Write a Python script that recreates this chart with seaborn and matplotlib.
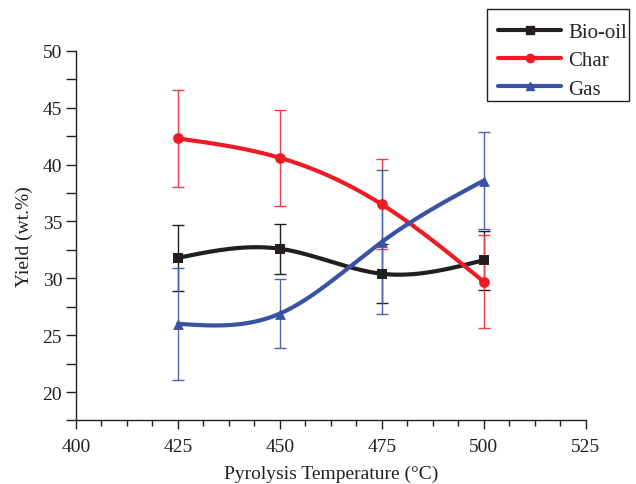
import numpy as np
import pandas as pd
import matplotlib
matplotlib.use("Agg")
import matplotlib.pyplot as plt
import seaborn as sns
from matplotlib.lines import Line2D
from matplotlib.patches import Rectangle
from matplotlib.ticker import MultipleLocator

temps = [425, 450, 475, 500]
bio_oil = [31.8, 32.6, 30.4, 31.6]
bio_oil_err = [2.9, 2.2, 2.6, 2.6]
char = [42.3, 40.6, 36.5, 29.7]
char_err = [4.25, 4.2, 3.95, 4.1]
gas = [26.0, 26.9, 33.2, 38.6]
gas_err = [4.9, 3.05, 6.3, 4.25]

series_names = ["Bio-oil", "Char", "Gas"]


def natural_spline(x, y, n=200):
    x = np.asarray(x, float)
    y = np.asarray(y, float)
    k = len(x)
    h = np.diff(x)
    A = np.zeros((k, k))
    b = np.zeros(k)
    A[0, 0] = 1
    A[-1, -1] = 1
    for i in range(1, k - 1):
        A[i, i - 1] = h[i - 1]
        A[i, i] = 2 * (h[i - 1] + h[i])
        A[i, i + 1] = h[i]
        b[i] = 3 * ((y[i + 1] - y[i]) / h[i] - (y[i] - y[i - 1]) / h[i - 1])
    c = np.linalg.solve(A, b)
    xs = np.linspace(x[0], x[-1], n)
    ys = np.empty_like(xs)
    for j, xv in enumerate(xs):
        i = min(np.searchsorted(x, xv, side="right") - 1, k - 2)
        dx = xv - x[i]
        bi = (y[i + 1] - y[i]) / h[i] - h[i] * (2 * c[i] + c[i + 1]) / 3
        di = (c[i + 1] - c[i]) / (3 * h[i])
        ys[j] = y[i] + bi * dx + c[i] * dx ** 2 + di * dx ** 3
    return xs, ys


sns.set_style("ticks")
plt.rcParams["font.family"] = ["Liberation Serif", "DejaVu Serif"]

W, H = 636, 485
fig = plt.figure(figsize=(W / 100, H / 100), dpi=100)
ax = fig.add_axes([0.1195, 0.131, 0.8015, 0.762])

colors = {"Bio-oil": "#231f20", "Char": "#ed1c24", "Gas": "#3953a4"}
err_colors = {"Bio-oil": "#231f20", "Char": "#ef3e45", "Gas": "#4a64b0"}
markers = {"Bio-oil": "s", "Char": "o", "Gas": "^"}
vals = {"Bio-oil": bio_oil, "Char": char, "Gas": gas}
errs = {"Bio-oil": bio_oil_err, "Char": char_err, "Gas": gas_err}

for z, name in enumerate(series_names):
    ax.errorbar(temps, vals[name], yerr=errs[name], fmt="none",
                ecolor=err_colors[name], elinewidth=1.0, capsize=4.5,
                capthick=1.0, zorder=2 + z)

for z, name in enumerate(series_names):
    xs, ys = natural_spline(temps, vals[name])
    df = pd.DataFrame({"x": xs, "y": ys})
    sns.lineplot(data=df, x="x", y="y", ax=ax, color=colors[name],
                 linewidth=3.0, zorder=5 + z, sort=False)
    dpts = pd.DataFrame({"x": temps, "y": vals[name]})
    sns.scatterplot(data=dpts, x="x", y="y", ax=ax, color=colors[name],
                    marker=markers[name], s=60, edgecolor=colors[name],
                    linewidth=0, zorder=5.5 + z)

ax.set_xlim(400, 525)
ax.set_ylim(17.5, 50)
ax.xaxis.set_major_locator(MultipleLocator(25))
ax.xaxis.set_minor_locator(MultipleLocator(6.25))
ax.yaxis.set_major_locator(MultipleLocator(5))
ax.yaxis.set_minor_locator(MultipleLocator(2.5))
ax.set_yticks([20, 25, 30, 35, 40, 45, 50])

for s in ["top", "right"]:
    ax.spines[s].set_visible(False)
for s in ["left", "bottom"]:
    ax.spines[s].set_linewidth(1.0)
    ax.spines[s].set_color("#231f20")

ax.tick_params(axis="x", which="major", direction="out", length=6.5, width=1,
               labelsize=14, pad=6, colors="#231f20")
ax.tick_params(axis="x", which="minor", direction="out", length=4, width=1,
               colors="#231f20")
ax.tick_params(axis="y", which="major", direction="out", length=7, width=1,
               labelsize=14, pad=3, colors="#231f20")
ax.tick_params(axis="y", which="minor", direction="out", length=7, width=1,
               colors="#231f20")

ax.set_xlabel("Pyrolysis Temperature (°C)", fontsize=14, color="#231f20", labelpad=7)
ax.set_ylabel("Yield (wt.%)", fontsize=14, color="#231f20", labelpad=7)

handles = [Line2D([0], [0], color=colors[n], marker=markers[n], linewidth=3.0,
                  markersize=6) for n in series_names]
leg = fig.legend(handles, series_names, loc="upper left",
                 bbox_to_anchor=(490 / W, 1 - 15 / H), fontsize=15,
                 frameon=False, handlelength=3.0, borderpad=0.4,
                 labelspacing=0.42, handletextpad=0.35, borderaxespad=0)
fig.patches.append(Rectangle((487 / W, 1 - 102 / H), 142 / W, 92 / H,
                             transform=fig.transFigure, fill=False,
                             edgecolor="#231f20", linewidth=1.0))

fig.savefig("out.png", dpi=100)
